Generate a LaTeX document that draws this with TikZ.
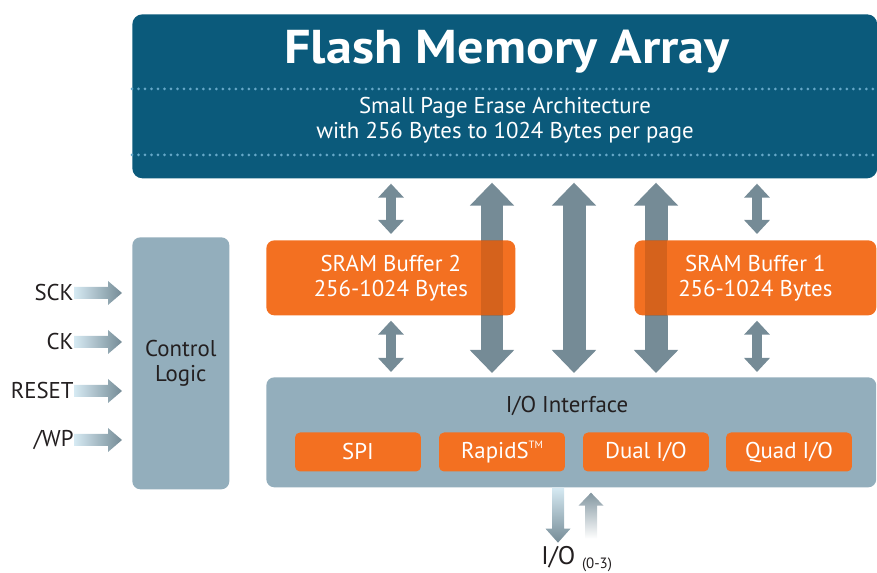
\documentclass[tikz,border=0pt]{standalone}
\usepackage{fontspec}
\setmainfont{PT Sans}
\usetikzlibrary{arrows.meta}
\definecolor{flashblue}{RGB}{11,90,123}
\definecolor{ctrlgrey}{RGB}{147,174,188}
\definecolor{sramorange}{RGB}{243,112,33}
\definecolor{arrowgrey}{RGB}{117,139,150}
\definecolor{dotblue}{RGB}{102,168,200}
\definecolor{arrowlight}{RGB}{214,234,243}
\definecolor{labeltext}{RGB}{35,31,32}
\begin{document}
\begin{tikzpicture}[x=0.02cm,y=-0.02cm,
    texto/.style={font=\fontsize{13}{14.2}\selectfont, align=center},
    etiqueta/.style={texto, text=labeltext, inner sep=0},
    bloque/.style={texto, rounded corners=0.16cm, inner sep=0, anchor=north west},
    modo/.style={texto, text=white, fill=sramorange, rounded corners=0.1cm, minimum width=2.52cm, minimum height=0.78cm, inner sep=0},
    puntos/.style={dotblue, line width=0.06cm, line cap=round, dash pattern=on 0pt off 0.13cm},
    flechagrande/.style={arrowgrey, line width=0.46cm, {Triangle[width=0.86cm,length=0.46cm]}-{Triangle[width=0.86cm,length=0.46cm]}, shorten <=0.08cm, shorten >=0.08cm},
    flechachica/.style={arrowgrey, line width=0.19cm, {Triangle[width=0.5cm,length=0.28cm]}-{Triangle[width=0.5cm,length=0.28cm]}},
    flechaentrada/.style={left color=arrowlight, right color=arrowgrey},
    franja/.style={black, opacity=0.12}]
    \useasboundingbox (0,0) rectangle (877,573);
    %%% FLASH
    \node[bloque, fill=flashblue, rounded corners=0.2cm, minimum width=14.9cm, minimum height=3.28cm] at (132,14) (flash) {};
    \node[text=white, font=\bfseries\fontsize{27}{29}\selectfont\addfontfeatures{FakeStretch=1.1}] at (507,52) (titulo) {Flash Memory Array};
    \coordinate (linea1) at (0,89);
    \coordinate (linea2) at (0,155);
    \draw[puntos] (flash.west |- linea1) -- (flash.east |- linea1);
    \draw[puntos] (flash.west |- linea2) -- (flash.east |- linea2);
    \node[texto, text=white] at (505,120) (subtitulo) {Small Page Erase Architecture\\with 256 Bytes to 1024 Bytes per page};
    %%% posiciones de las flechas
    \coordinate (g1) at (492,0);
    \coordinate (g2) at (574,0);
    \coordinate (g3) at (656,0);
    \coordinate (p2) at (391,0);
    \coordinate (p1) at (757,0);
    %%% BLOQUES
    \node[bloque, fill=ctrlgrey, text=labeltext, minimum width=1.94cm, minimum height=5.04cm] at (132,237) (ctrl) {Control\\Logic};
    \node[bloque, fill=ctrlgrey, minimum width=12.2cm, minimum height=2.2cm] at (266,377) (io) {};
    \node[etiqueta] at (567,406) (ioetiq) {I/O Interface};
    \node[modo] at (358,452) (spi) {SPI};
    \node[modo] at (502,452) (rapids) {RapidS\raisebox{0.85ex}{\fontsize{6}{7}\selectfont TM}};
    \node[modo] at (646,452) (dual) {Dual I/O};
    \node[modo] at (789,452) (quad) {Quad I/O};
    %%% FLECHAS GRANDES
    \draw[flechagrande] (flash.south -| g1) -- (io.north -| g1);
    \draw[flechagrande] (flash.south -| g2) -- (io.north -| g2);
    \draw[flechagrande] (flash.south -| g3) -- (io.north -| g3);
    %%% BUFFERS
    \node[bloque, fill=sramorange, text=white, minimum width=4.98cm, minimum height=1.5cm] at (266,240) (buf2) {SRAM Buffer 2\\256-1024 Bytes};
    \node[bloque, fill=sramorange, text=white, minimum width=4.84cm, minimum height=1.5cm] at (634,240) (buf1) {SRAM Buffer 1\\256-1024 Bytes};
    \fill[franja] ([xshift=-0.22cm]buf2.north -| g1) rectangle ([xshift=0.22cm]buf2.south -| g1);
    \fill[franja] ([xshift=-0.22cm]buf1.north -| g3) rectangle ([xshift=0.22cm]buf1.south -| g3);
    %%% FLECHAS CHICAS
    \draw[flechachica, shorten <=0.1cm, shorten >=0.12cm] (flash.south -| p2) -- (buf2.north -| p2);
    \draw[flechachica, shorten <=0.1cm, shorten >=0.1cm] (buf2.south -| p2) -- (io.north -| p2);
    \draw[flechachica, shorten <=0.1cm, shorten >=0.12cm] (flash.south -| p1) -- (buf1.north -| p1);
    \draw[flechachica, shorten <=0.1cm, shorten >=0.1cm] (buf1.south -| p1) -- (io.north -| p1);
    %%% ENTRADAS
    \node[etiqueta, anchor=east] at (74,293) (sck) {SCK};
    \node[etiqueta, anchor=east] at (74,342) (ck) {CK};
    \node[etiqueta, anchor=east] at (74,391) (reset) {RESET};
    \node[etiqueta, anchor=east] at (74,440) (wp) {/WP};
    \shade[flechaentrada] (sck.east) ++(0,-6) -- ++(34,0) -- ++(0,-6) -- ++(14,12) -- ++(-14,12) -- ++(0,-6) -- ++(-34,0) -- cycle;
    \shade[flechaentrada] (ck.east) ++(0,-6) -- ++(34,0) -- ++(0,-6) -- ++(14,12) -- ++(-14,12) -- ++(0,-6) -- ++(-34,0) -- cycle;
    \shade[flechaentrada] (reset.east) ++(0,-6) -- ++(34,0) -- ++(0,-6) -- ++(14,12) -- ++(-14,12) -- ++(0,-6) -- ++(-34,0) -- cycle;
    \shade[flechaentrada] (wp.east) ++(0,-6) -- ++(34,0) -- ++(0,-6) -- ++(14,12) -- ++(-14,12) -- ++(0,-6) -- ++(-34,0) -- cycle;
    %%% I/O (0-3)
    \coordinate (bajada) at (558,0);
    \coordinate (subida) at (591,0);
    \shade[top color=arrowlight, bottom color=arrowgrey] (io.south -| bajada) ++(-6,0) -- ++(0,41) -- ++(-6.5,0) -- ++(12.5,14) -- ++(12.5,-14) -- ++(-6.5,0) -- ++(0,-41) -- cycle;
    \shade[top color=arrowgrey, bottom color=white] (io.south -| subida) ++(0,5) -- ++(12.5,13) -- ++(-6.5,0) -- ++(0,33) -- ++(-12,0) -- ++(0,-33) -- ++(-6.5,0) -- cycle;
    \node[etiqueta, anchor=west, font=\fontsize{14.5}{16}\selectfont] at (541,559) (iolabel) {I/O \raisebox{-0.3ex}{\fontsize{8.5}{9}\selectfont (0-3)}};
\end{tikzpicture}
\end{document}
